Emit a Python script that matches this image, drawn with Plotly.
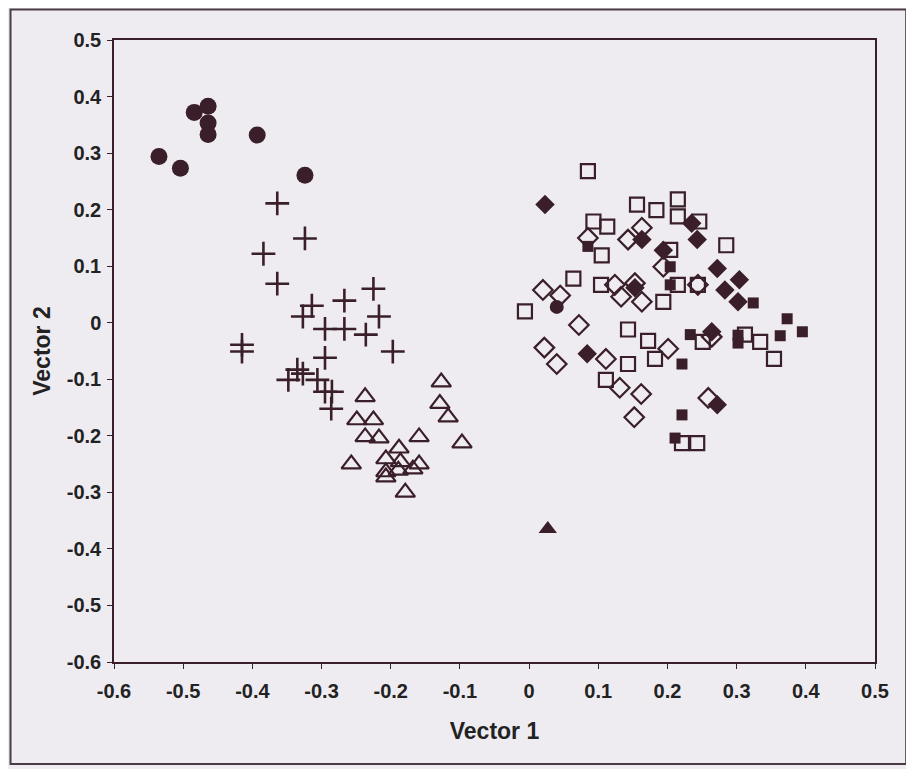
import plotly.graph_objects as go

# Group data (Vector 1, Vector 2)
circ_x = [-0.535, -0.504, -0.484, -0.464, -0.464, -0.464, -0.393, -0.324]
circ_y = [0.294, 0.273, 0.372, 0.383, 0.353, 0.333, 0.332, 0.261]

plus_x = [-0.364, -0.324, -0.384, -0.364, -0.225, -0.267, -0.314, -0.327, -0.217, -0.295,
          -0.267, -0.236, -0.415, -0.415, -0.197, -0.295, -0.335, -0.348, -0.327, -0.306,
          -0.295, -0.285, -0.286]
plus_y = [0.211, 0.149, 0.122, 0.069, 0.060, 0.039, 0.030, 0.011, 0.011, -0.011,
          -0.011, -0.021, -0.039, -0.051, -0.051, -0.062, -0.083, -0.101, -0.090, -0.101,
          -0.122, -0.122, -0.152]

tri_x = [-0.127, -0.237, -0.129, -0.117, -0.249, -0.225, -0.237, -0.217, -0.159, -0.097,
         -0.188, -0.257, -0.207, -0.186, -0.159, -0.168, -0.207, -0.207, -0.189, -0.179]
tri_y = [-0.105, -0.131, -0.143, -0.167, -0.172, -0.172, -0.202, -0.204, -0.202, -0.213,
         -0.222, -0.250, -0.241, -0.246, -0.250, -0.259, -0.264, -0.273, -0.261, -0.300]

ftri_x = [0.027]
ftri_y = [-0.365]

fcirc2_x = [0.040]
fcirc2_y = [0.028]

osq_x = [0.085, 0.156, 0.184, 0.215, 0.215, 0.093, 0.113, 0.246, 0.285, 0.105,
         0.204, 0.064, 0.104, 0.215, 0.244, -0.006, 0.194, 0.143, 0.172, 0.182,
         0.143, 0.251, 0.312, 0.334, 0.354, 0.111, 0.221, 0.243]
osq_y = [0.268, 0.209, 0.199, 0.218, 0.188, 0.179, 0.170, 0.179, 0.137, 0.119,
         0.129, 0.078, 0.067, 0.067, 0.067, 0.020, 0.037, -0.012, -0.032, -0.064,
         -0.073, -0.034, -0.021, -0.034, -0.064, -0.101, -0.213, -0.213]

odia_x = [0.163, 0.143, 0.194, 0.124, 0.133, 0.153, 0.163, 0.244, 0.020, 0.045,
          0.072, 0.022, 0.111, 0.040, 0.201, 0.131, 0.162, 0.152, 0.259, 0.085, 0.264]
odia_y = [0.168, 0.147, 0.099, 0.067, 0.046, 0.070, 0.037, 0.067, 0.058, 0.048,
          -0.004, -0.044, -0.064, -0.073, -0.046, -0.115, -0.126, -0.167, -0.133, 0.150, -0.025]

fdia_x = [0.023, 0.235, 0.163, 0.243, 0.194, 0.153, 0.272, 0.304, 0.283, 0.302,
          0.084, 0.264, 0.272]
fdia_y = [0.209, 0.176, 0.147, 0.147, 0.128, 0.062, 0.096, 0.076, 0.058, 0.037,
          -0.055, -0.016, -0.145]

fsq_x = [0.085, 0.204, 0.204, 0.324, 0.373, 0.395, 0.363, 0.233, 0.302, 0.302,
         0.221, 0.221, 0.211]
fsq_y = [0.135, 0.099, 0.067, 0.035, 0.007, -0.016, -0.023, -0.021, -0.022, -0.036,
         -0.073, -0.163, -0.204]

tick_vals = [-0.6, -0.5, -0.4, -0.3, -0.2, -0.1, 0, 0.1, 0.2, 0.3, 0.4, 0.5]
tick_text = ["-0.6", "-0.5", "-0.4", "-0.3", "-0.2", "-0.1", "0", "0.1", "0.2", "0.3", "0.4", "0.5"]

INK = "#3a1f2a"
BG = "#eeecf1"
FONT = "Liberation Sans, Arial"

fig = go.Figure()

def add(x, y, symbol, size, lw=1.6):
    fig.add_trace(go.Scatter(
        x=x, y=y, mode="markers",
        marker=dict(symbol=symbol, size=size, color=INK,
                    line=dict(color=INK, width=lw)),
        showlegend=False, hoverinfo="x+y"))

add(circ_x, circ_y, "circle", 17, 0)
add(plus_x, plus_y, "cross-thin-open", 17, 2.6)
add(tri_x, tri_y, "triangle-up-open", 17, 2.2)
add(ftri_x, ftri_y, "triangle-up", 16, 0)
add(fcirc2_x, fcirc2_y, "circle", 14, 0)
add(osq_x, osq_y, "square-open", 14, 2.2)
add(odia_x, odia_y, "diamond-open", 15, 2.2)
add(fdia_x, fdia_y, "diamond", 15, 0)
add(fsq_x, fsq_y, "square", 11, 0)

axis_common = dict(
    tickvals=tick_vals, ticktext=tick_text,
    showgrid=False, zeroline=False,
    showline=True, linecolor=INK, linewidth=1.5, mirror=True,
    ticks="outside", ticklen=5, tickwidth=1.2, tickcolor=INK,
    tickfont=dict(family=FONT, size=20, color="#222222", weight="bold"),
)

# page body has an 8px default margin; figure is sized so the plot area lands where the original's is
fig.update_layout(
    width=906, height=761,
    paper_bgcolor=BG, plot_bgcolor=BG,
    margin=dict(l=106, r=39, t=32, b=107),
    xaxis=dict(range=[-0.6, 0.5], **axis_common, ticklabelstandoff=5,
               title=dict(text="Vector 1", standoff=22,
                          font=dict(family=FONT, size=23, color="#222222", weight="bold"))),
    yaxis=dict(range=[-0.6, 0.5], **axis_common, ticklabelstandoff=2,
               title=dict(text="Vector 2", standoff=10,
                          font=dict(family=FONT, size=23, color="#222222", weight="bold"))),
    shapes=[dict(type="rect", xref="paper", yref="paper",
                 x0=-0.136, x1=1.041, y0=-0.164, y1=1.049,
                 line=dict(color="#4a3a44", width=2), fillcolor="rgba(0,0,0,0)", layer="below")],
)

fig.write_html("out.html")
